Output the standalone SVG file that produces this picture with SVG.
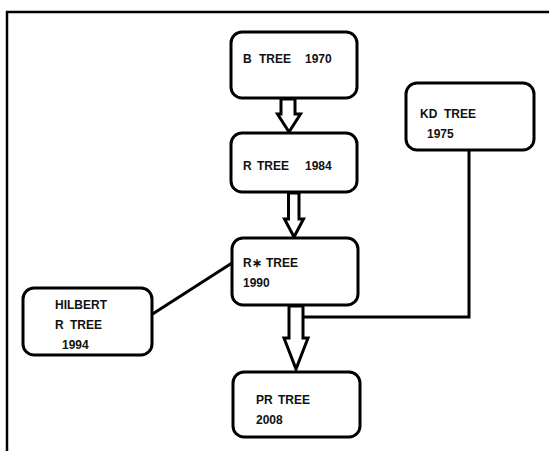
<svg xmlns="http://www.w3.org/2000/svg" width="549" height="451" viewBox="0 0 549 451">
<style>
.box{fill:#fff;stroke:#000;stroke-width:3}
.t{font-family:"Liberation Sans",Arial,sans-serif;font-size:12px;font-weight:bold;fill:#111}
.arr{fill:#fff;stroke:#000;stroke-width:3;stroke-linejoin:miter}
.ln{fill:none;stroke:#000;stroke-width:3}
</style>
<rect width="549" height="451" fill="#fff"/>
<path d="M7,451 V12 H549" fill="none" stroke="#000" stroke-width="2.5"/>
<g id="connectors">
<polygon class="arr" points="281,99 281,114 277.5,114 289,132 300.5,114 295,114 295,99"/>
<polygon class="arr" points="288.5,193 288.5,219 284.5,219 294,237 303.5,219 299,219 299,193"/>
<polygon class="arr" points="289,306 289,338 284,338 296,369 308,338 303,338 303,306"/>
<polyline class="ln" points="303,317 469,317 469,150"/>
<line class="ln" x1="151" y1="315" x2="232" y2="263"/>
</g>
<g id="btree">
<rect class="box" x="231" y="32" width="126" height="66" rx="11"/>
<text class="t" y="63"><tspan x="243">B</tspan><tspan x="259">TREE</tspan><tspan x="305">1970</tspan></text>
</g>
<g id="rtree">
<rect class="box" x="231" y="133" width="126" height="59" rx="11"/>
<text class="t" y="170"><tspan x="243">R</tspan><tspan x="257">TREE</tspan><tspan x="305">1984</tspan></text>
</g>
<g id="rstartree">
<rect class="box" x="232" y="238" width="126" height="67" rx="11"/>
<text class="t" y="267"><tspan x="243">R∗</tspan><tspan x="266">TREE</tspan></text>
<text class="t" x="243" y="287">1990</text>
</g>
<g id="hilbert">
<rect class="box" x="23" y="288" width="129" height="67" rx="11"/>
<text class="t" x="55" y="309">HILBERT</text>
<text class="t" y="329"><tspan x="55">R</tspan><tspan x="70">TREE</tspan></text>
<text class="t" x="62" y="349">1994</text>
</g>
<g id="kdtree">
<rect class="box" x="406" y="83" width="128" height="67" rx="11"/>
<text class="t" y="118"><tspan x="420">KD</tspan><tspan x="444">TREE</tspan></text>
<text class="t" x="427" y="138">1975</text>
</g>
<g id="prtree">
<rect class="box" x="233" y="372" width="127" height="65" rx="11"/>
<text class="t" y="404"><tspan x="256">PR</tspan><tspan x="278">TREE</tspan></text>
<text class="t" x="256" y="424">2008</text>
</g>
</svg>
